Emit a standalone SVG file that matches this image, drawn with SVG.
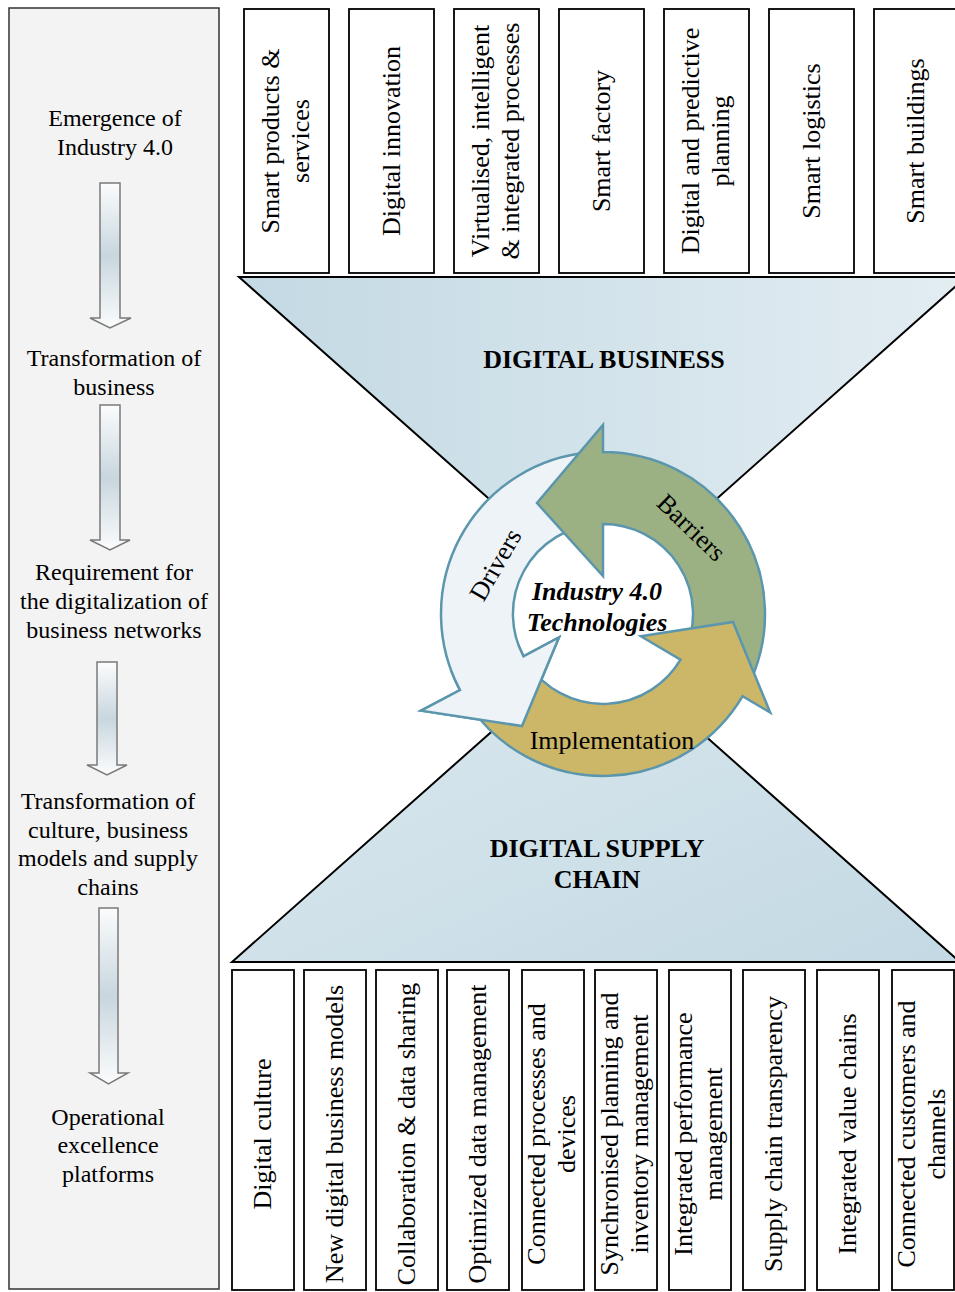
<svg xmlns="http://www.w3.org/2000/svg" width="955" height="1292" viewBox="0 0 955 1292">
<style>
text{font-family:"Liberation Serif","Times New Roman",serif;fill:#000;}
.lp{font-size:24px;text-anchor:middle;}
.bx{font-size:26px;text-anchor:middle;}
.box{fill:#fff;stroke:#000;stroke-width:1.8;}
.ttl{font-size:26px;font-weight:bold;text-anchor:middle;}
.cyc{font-size:26px;text-anchor:middle;}
.arr{stroke:#5b96ad;stroke-width:2.5;stroke-linejoin:miter;}
.larr{fill:url(#lg);stroke:#7a7a7a;stroke-width:1.5;}
.tri{stroke:#000;stroke-width:2;}
</style>
<defs>
<linearGradient id="lg" x1="0" y1="0" x2="0" y2="1">
<stop offset="0" stop-color="#fbfcfd"/>
<stop offset="0.5" stop-color="#c8d6de"/>
<stop offset="1" stop-color="#fbfcfd"/>
</linearGradient>
<linearGradient id="tg" x1="0" y1="0" x2="1" y2="0">
<stop offset="0" stop-color="#c3d9e3"/>
<stop offset="1" stop-color="#e3edf2"/>
</linearGradient>
<linearGradient id="bg" x1="0" y1="0" x2="1" y2="1">
<stop offset="0" stop-color="#dde9ef"/>
<stop offset="1" stop-color="#c3d9e3"/>
</linearGradient>
<clipPath id="dclip"><polygon points="603,614 358.7,702.9 409.8,788 493.1,849.6"/></clipPath>
</defs>
<rect width="955" height="1292" fill="#fff"/>

<g id="left-panel">
<rect x="9" y="8" width="210" height="1281" fill="#f3f3f3" stroke="#333" stroke-width="1.5"/>
<text class="lp" x="115" y="126">Emergence of</text>
<text class="lp" x="115" y="155">Industry 4.0</text>
<text class="lp" x="114" y="366">Transformation of</text>
<text class="lp" x="114" y="395">business</text>
<text class="lp" x="114" y="580">Requirement for</text>
<text class="lp" x="114" y="609">the digitalization of</text>
<text class="lp" x="114" y="638">business networks</text>
<text class="lp" x="108" y="809">Transformation of</text>
<text class="lp" x="108" y="838">culture, business</text>
<text class="lp" x="108" y="866">models and supply</text>
<text class="lp" x="108" y="895">chains</text>
<text class="lp" x="108" y="1125">Operational</text>
<text class="lp" x="108" y="1153">excellence</text>
<text class="lp" x="108" y="1182">platforms</text>
<path class="larr" d="M100,183 H120 V318 H131 L110,328 L90,318 H100 Z"/>
<path class="larr" d="M100,405 H120 V540 H130 L110,550 L90,540 H100 Z"/>
<path class="larr" d="M97,662 H117 V765 H127 L107,775 L87,765 H97 Z"/>
<path class="larr" d="M99,908 H118 V1073 H128 L108.5,1084 L90,1073 H99 Z"/>
</g>

<g id="digital-business">
<polygon class="tri" points="239,277 966,277 603,600" fill="url(#tg)"/>
<text class="ttl" x="604" y="368">DIGITAL BUSINESS</text>
</g>
<g id="digital-supply-chain">
<polygon class="tri" points="596,639 960,962 232,962" fill="url(#bg)"/>
<text class="ttl" x="597" y="857">DIGITAL SUPPLY</text>
<text class="ttl" x="597" y="888">CHAIN</text>
</g>

<g id="top-boxes">
<g id="t1"><rect class="box" x="244" y="9" width="85" height="264"/>
<text class="bx" transform="translate(286.5,141) rotate(-90)"><tspan x="0" y="-8">Smart products &amp;</tspan><tspan x="0" y="22">services</tspan></text></g>
<g id="t2"><rect class="box" x="349" y="9" width="85" height="264"/>
<text class="bx" transform="translate(391.5,141) rotate(-90)" y="8">Digital innovation</text></g>
<g id="t3"><rect class="box" x="454" y="9" width="85" height="264"/>
<text class="bx" transform="translate(496.5,141) rotate(-90)"><tspan x="0" y="-8">Virtualised, intelligent</tspan><tspan x="0" y="22">&amp; integrated processes</tspan></text></g>
<g id="t4"><rect class="box" x="559" y="9" width="85" height="264"/>
<text class="bx" transform="translate(601.5,141) rotate(-90)" y="8">Smart factory</text></g>
<g id="t5"><rect class="box" x="664" y="9" width="85" height="264"/>
<text class="bx" transform="translate(706.5,141) rotate(-90)"><tspan x="0" y="-8">Digital and predictive</tspan><tspan x="0" y="22">planning</tspan></text></g>
<g id="t6"><rect class="box" x="769" y="9" width="85" height="264"/>
<text class="bx" transform="translate(811.5,141) rotate(-90)" y="8">Smart logistics</text></g>
<g id="t7"><rect class="box" x="874" y="9" width="85" height="264"/>
<text class="bx" transform="translate(916,141) rotate(-90)" y="8">Smart buildings</text></g>
</g>

<g id="bottom-boxes">
<g id="b1"><rect class="box" x="232" y="970" width="62" height="320"/>
<text class="bx" transform="translate(263,1134) rotate(-90)" y="8">Digital culture</text></g>
<g id="b2"><rect class="box" x="304" y="970" width="62" height="320"/>
<text class="bx" transform="translate(335,1134) rotate(-90)" y="8">New digital business models</text></g>
<g id="b3"><rect class="box" x="376" y="970" width="62" height="320"/>
<text class="bx" transform="translate(407,1134) rotate(-90)" y="8">Collaboration &amp; data sharing</text></g>
<g id="b4"><rect class="box" x="447" y="970" width="62" height="320"/>
<text class="bx" transform="translate(478,1134) rotate(-90)" y="8">Optimized data management</text></g>
<g id="b5"><rect class="box" x="522" y="970" width="62" height="320"/>
<text class="bx" transform="translate(553,1134) rotate(-90)"><tspan x="0" y="-8">Connected processes and</tspan><tspan x="0" y="22">devices</tspan></text></g>
<g id="b6"><rect class="box" x="595" y="970" width="62" height="320"/>
<text class="bx" transform="translate(626,1134) rotate(-90)"><tspan x="0" y="-8">Synchronised planning and</tspan><tspan x="0" y="22">inventory management</tspan></text></g>
<g id="b7"><rect class="box" x="669" y="970" width="62" height="320"/>
<text class="bx" transform="translate(700,1134) rotate(-90)"><tspan x="0" y="-8">Integrated performance</tspan><tspan x="0" y="22">management</tspan></text></g>
<g id="b8"><rect class="box" x="743" y="970" width="62" height="320"/>
<text class="bx" transform="translate(774,1134) rotate(-90)" y="8">Supply chain transparency</text></g>
<g id="b9"><rect class="box" x="817" y="970" width="62" height="320"/>
<text class="bx" transform="translate(848,1134) rotate(-90)" y="8">Integrated value chains</text></g>
<g id="b10"><rect class="box" x="892" y="970" width="62" height="320"/>
<text class="bx" transform="translate(923,1134) rotate(-90)"><tspan x="0" y="-8">Connected customers and</tspan><tspan x="0" y="22">channels</tspan></text></g>
</g>

<g id="cycle">
<circle cx="603" cy="614" r="120" fill="#fff"/>
<path id="drivers" class="arr" fill="#eef3f7" d="M588.9,452.6 A162,162 0 0 0 460.0,690.1 L421.1,710.7 L522,726 L558.9,637.5 L523.5,656.3 A90,90 0 0 1 595.2,524.3 Z"/>
<path id="barriers" class="arr" fill="#9cb183" d="M749.8,682.5 A162,162 0 0 0 603,452 L603,425 L537,503 L603,576 L603,524 A90,90 0 0 1 684.6,652.0 Z"/>
<path id="implementation" class="arr" fill="#cbb767" d="M470.3,706.9 A162,162 0 0 0 742.6,696.2 L770.2,712.5 L733,622 L640.9,636.3 L680.5,659.7 A90,90 0 0 1 529.3,665.6 Z"/>
<path class="arr" fill="#eef3f7" clip-path="url(#dclip)" d="M588.9,452.6 A162,162 0 0 0 460.0,690.1 L421.1,710.7 L522,726 L558.9,637.5 L523.5,656.3 A90,90 0 0 1 595.2,524.3 Z"/>
<text class="cyc" transform="translate(496,565) rotate(-60)" y="8">Drivers</text>
<text class="cyc" transform="translate(691,528) rotate(44)" y="8">Barriers</text>
<text class="cyc" x="612" y="749">Implementation</text>
<text class="cyc" x="597" y="600" font-weight="bold" font-style="italic">Industry 4.0</text>
<text class="cyc" x="597" y="631" font-weight="bold" font-style="italic">Technologies</text>
</g>
</svg>
